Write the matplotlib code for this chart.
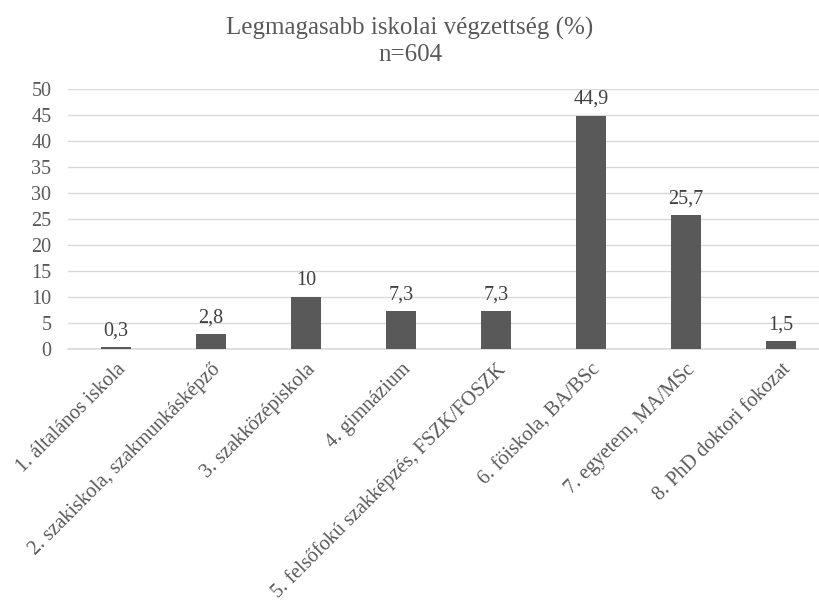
import matplotlib.pyplot as plt

categories = [
    '1. általános iskola',
    '2. szakiskola, szakmunkásképző',
    '3. szakközépiskola',
    '4. gimnázium',
    '5. felsőfokú szakképzés, FSZK/FOSZK',
    '6. föiskola, BA/BSc',
    '7. egyetem, MA/MSc',
    '8. PhD doktori fokozat',
]
values = [0.3, 2.8, 10, 7.3, 7.3, 44.9, 25.7, 1.5]
labels = ['0,3', '2,8', '10', '7,3', '7,3', '44,9', '25,7', '1,5']
yticks = [0, 5, 10, 15, 20, 25, 30, 35, 40, 45, 50]

WIDTH = 820
HEIGHT = 609
DPI = 100
GRAY = '#595959'

plt.rcParams['font.family'] = ['Liberation Serif', 'DejaVu Serif']

fig = plt.figure(figsize=(WIDTH / DPI, HEIGHT / DPI), dpi=DPI)
ax = fig.add_axes([68 / WIDTH, 1 - 349 / HEIGHT, (820 - 68) / WIDTH, (349 - 89) / HEIGHT])

x = list(range(len(categories)))
bars = ax.bar(x, values, width=0.316, color=GRAY, zorder=3)

for b, lab in zip(bars, labels):
    ax.annotate(lab, (b.get_x() + b.get_width() / 2, b.get_height()),
                xytext=(0, 5), textcoords='offset points',
                ha='center', va='bottom', fontsize=14.5, color='#404040')

ax.set_xlim(-0.505, 7.41)
ax.set_ylim(0, 50)
ax.set_yticks(yticks)
ax.set_yticklabels([str(t) for t in yticks], fontsize=14.5, color=GRAY)
ax.yaxis.grid(True, color='#d9d9d9', linewidth=1, zorder=0)

ax.set_xticks(x)
ax.set_xticklabels(categories, rotation=45, ha='right', rotation_mode='anchor',
                   fontsize=14.6, color=GRAY)

ax.tick_params(axis='both', length=0)
ax.tick_params(axis='y', pad=12)
ax.tick_params(axis='x', pad=8)
for side in ['top', 'right', 'left']:
    ax.spines[side].set_visible(False)
ax.spines['bottom'].set_color('#d9d9d9')
ax.spines['bottom'].set_linewidth(1.2)

fig.text(0.5, 1 - 28 / HEIGHT, 'Legmagasabb iskolai végzettség (%)', ha='center', va='center',
         fontsize=18, color=GRAY)
fig.text(0.5, 1 - 55 / HEIGHT, 'n=604', ha='center', va='center',
         fontsize=18, color=GRAY)

fig.savefig('out.png', dpi=DPI)
